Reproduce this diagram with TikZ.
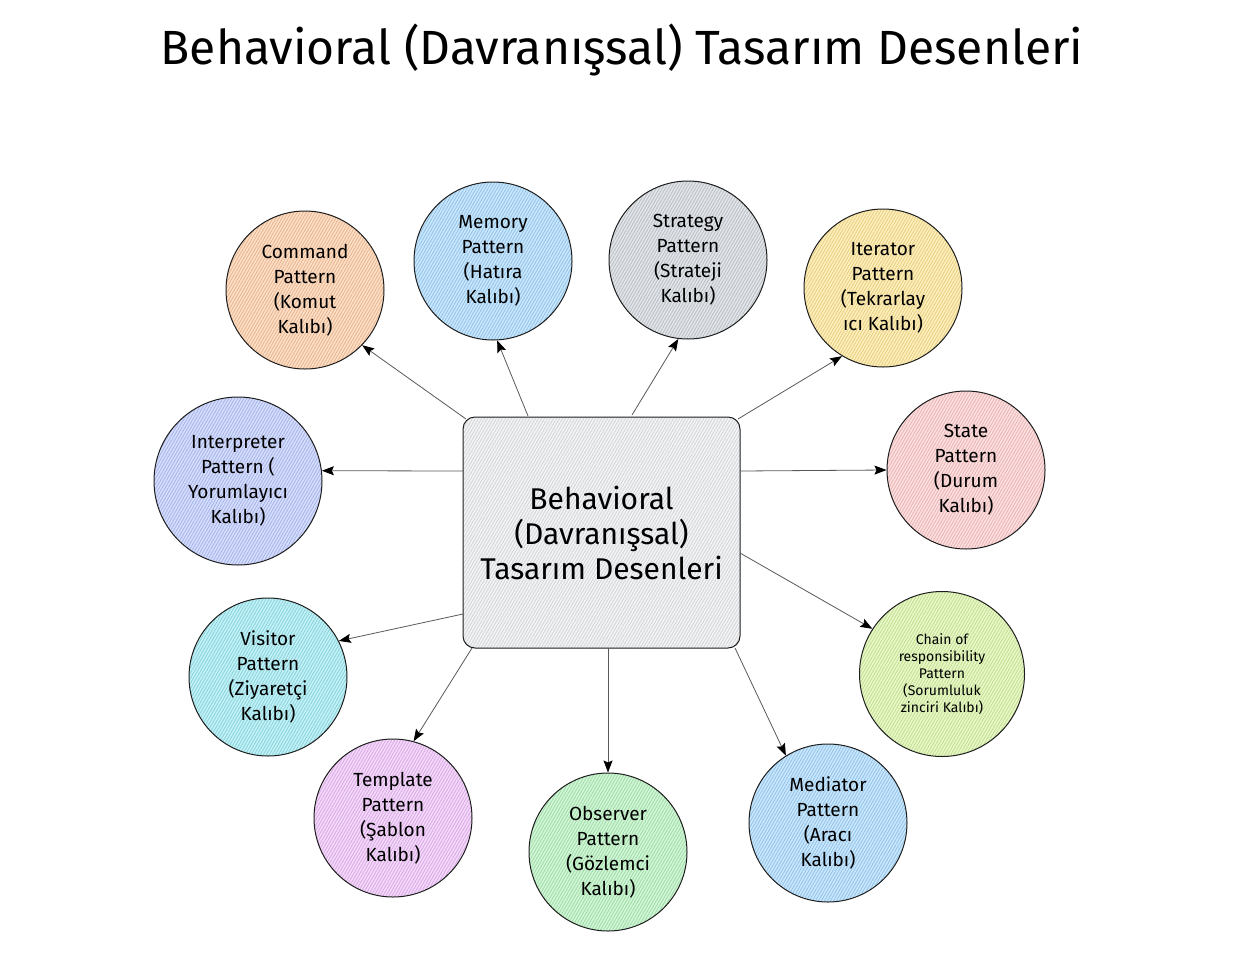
\documentclass[tikz,border=0pt]{standalone}
\usepackage{fontspec}
\setmainfont{Fira Sans}
\usetikzlibrary{patterns.meta,arrows.meta}
\definecolor{inkc}{HTML}{1E1E1E}
\definecolor{cOrange}{HTML}{FFC9A0}
\definecolor{cBlue}{HTML}{A5D8FF}
\definecolor{cGray}{HTML}{CED4DA}
\definecolor{cYellow}{HTML}{FFE58F}
\definecolor{cIndigo}{HTML}{BAC8FF}
\definecolor{cRed}{HTML}{FFC9C9}
\definecolor{cCyan}{HTML}{99E9F2}
\definecolor{cLime}{HTML}{D8F5A2}
\definecolor{cGrape}{HTML}{EEBEFA}
\definecolor{cGreen}{HTML}{B2F2BB}
\definecolor{cBox}{HTML}{E9ECEF}
\tikzset{
  hatch/.style={preaction={fill=#1!60}, pattern={Lines[angle=60,distance=2.6pt,line width=0.8pt]}, pattern color=#1!90!black},
  bubble/.style={circle, draw=inkc, line width=1pt, minimum size=158pt, inner sep=0pt, align=center,
     font=\fontsize{19}{25}\selectfont, hatch=#1},
  link/.style={draw=black!65, line width=0.8pt, -{Stealth[length=12pt,width=9pt,inset=2pt,color=black]}},
}
\begin{document}
\begin{tikzpicture}[x=1pt,y=-1pt]
\useasboundingbox (0,0) rectangle (1250,956);
\node[font=\fontsize{48}{52}\selectfont] (title) at (622,50) {Behavioral (Davranışsal) Tasarım Desenleri};

\node[draw=inkc, line width=1pt, rounded corners=12pt, minimum width=277pt, minimum height=231pt,
      inner sep=0pt, align=center, font=\fontsize{30}{35}\selectfont, hatch=cBox] (box) at (601.5,532.5)
      {Behavioral\\(Davranışsal)\\Tasarım Desenleri};

\node[bubble=cOrange] (cmd) at (305,290) {Command\\Pattern\\(Komut\\Kalıbı)};
\node[bubble=cBlue] (mem) at (493,261) {Memory\\Pattern\\(Hatıra\\Kalıbı)};
\node[bubble=cGray] (str) at (688,260) {Strategy\\Pattern\\(Strateji\\Kalıbı)};
\node[bubble=cYellow] (itr) at (883,288) {Iterator\\Pattern\\(Tekrarlay\\ıcı Kalıbı)};
\node[bubble=cIndigo, minimum width=168pt] (int) at (238,481) {Interpreter\\Pattern (\\Yorumlayıcı\\Kalıbı)};
\node[bubble=cRed] (sta) at (966,470) {State\\Pattern\\(Durum\\Kalıbı)};
\node[bubble=cCyan] (vis) at (268,677) {Visitor\\Pattern\\(Ziyaretçi\\Kalıbı)};
\node[bubble=cLime, minimum size=165pt, font=\fontsize{14}{17}\selectfont] (cha) at (942,674)
     {Chain of\\responsibility\\Pattern\\(Sorumluluk\\zinciri Kalıbı)};
\node[bubble=cGrape] (tem) at (393,818) {Template\\Pattern\\(Şablon\\Kalıbı)};
\node[bubble=cGreen] (obs) at (608,852) {Observer\\Pattern\\(Gözlemci\\Kalıbı)};
\node[bubble=cBlue] (med) at (828,823) {Mediator\\Pattern\\(Aracı\\Kalıbı)};

\coordinate (s1) at (466,419);
\coordinate (s2) at (528,416);
\coordinate (s3) at (632,415);
\coordinate (s4) at (738,419);
\coordinate (s5) at (463,471);
\coordinate (s6) at (740,471);
\coordinate (s7) at (463,614);
\coordinate (s8) at (740,553);
\coordinate (s9) at (472,648);
\coordinate (s10) at (608,648);
\coordinate (s11) at (735,648);

\draw[link] (s1) -- (cmd.-44);
\draw[link] (s2) -- (mem.-87);
\draw[link] (s3) -- (str.-97);
\draw[link] (s4) -- (itr.-121);
\draw[link] (s5) -- (int.7);
\draw[link] (s6) -- (sta.180);
\draw[link] (s7) -- (vis.27);
\draw[link] (s8) -- (cha.147);
\draw[link] (s9) -- (tem.75);
\draw[link] (s10) -- (obs.90);
\draw[link] (s11) -- (med.122);
\end{tikzpicture}
\end{document}
